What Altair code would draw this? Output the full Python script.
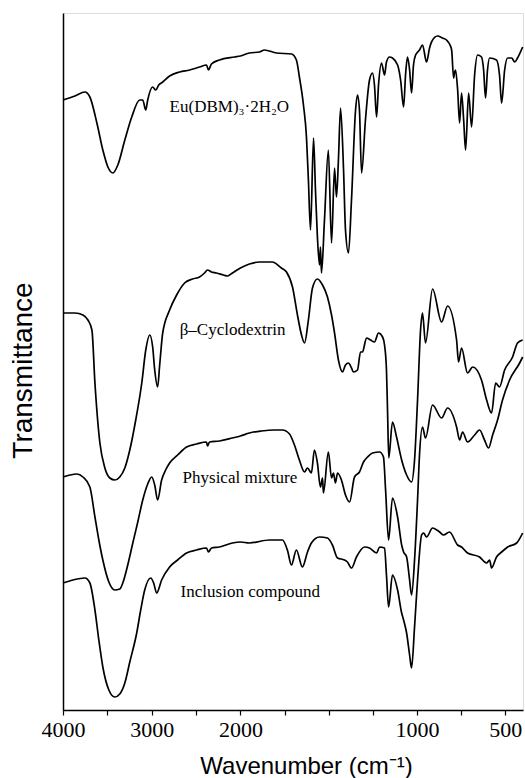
import altair as alt
import pandas as pd

# ---- Eu(DBM)3.2H2O ----
wn_eu = [4000, 3865, 3753, 3697, 3618, 3551, 3494, 3438, 3382, 3303, 3225, 3135, 3101, 3067, 3045,
         2989, 2955, 2921, 2876, 2798, 2685, 2573, 2461, 2382, 2360, 2326, 2236, 2067, 2000, 1949,
         1892, 1864, 1796, 1711, 1683, 1666, 1643, 1626, 1615, 1603, 1586, 1575, 1564, 1552, 1547,
         1541, 1524, 1502, 1484, 1467, 1456, 1445, 1433, 1416, 1405, 1388, 1371, 1348, 1337, 1326,
         1314, 1292, 1269, 1252, 1241, 1229, 1218, 1201, 1184, 1173, 1156, 1139, 1110, 1093, 1076,
         1065, 1054, 1042, 1031, 1020, 1008, 986, 969, 946, 929, 918, 884, 856, 833, 816,
         804, 793, 787, 782, 770, 759, 748, 736, 725, 708, 691, 674, 657, 635, 623,
         612, 601, 589, 550, 533, 521, 504, 487, 464, 447, 431, 402]
t_eu = [610, 614, 618, 613, 587, 560, 543, 537, 545, 570, 593, 610, 610, 600, 610,
        623, 620, 625, 628, 634, 638, 640, 643, 645, 640, 646, 650, 653, 654, 657,
        658, 660, 657, 656, 650, 633, 605, 573, 530, 480, 572, 520, 473, 445, 463,
        437, 490, 560, 467, 542, 513, 550, 602, 540, 480, 457, 510, 600, 615, 600,
        537, 590, 630, 637, 625, 593, 625, 647, 635, 648, 653, 652, 645, 630, 603,
        635, 653, 640, 617, 645, 655, 660, 665, 648, 662, 668, 674, 672, 670, 666,
        660, 632, 638, 640, 620, 587, 617, 590, 560, 617, 583, 635, 655, 653, 640,
        612, 640, 652, 650, 635, 607, 640, 652, 652, 648, 652, 663]

# ---- beta-Cyclodextrin ----
wn_cd = [4000, 3865, 3775, 3719, 3674, 3640, 3584, 3528, 3472, 3416, 3360, 3303, 3247, 3180, 3112,
         3067, 3022, 2989, 2966, 2933, 2910, 2876, 2798, 2719, 2629, 2539, 2461, 2404, 2371, 2326,
         2270, 2191, 2146, 2090, 2000, 1949, 1892, 1819, 1768, 1739, 1705, 1677, 1654, 1637, 1615,
         1592, 1564, 1535, 1507, 1484, 1467, 1445, 1422, 1405, 1388, 1371, 1360, 1337, 1320, 1309,
         1286, 1263, 1241, 1218, 1195, 1184, 1173, 1167, 1160, 1139, 1116, 1087, 1059, 1031, 1014,
         997, 980, 969, 952, 912, 861, 827, 776, 765, 748, 714, 685, 635, 606, 578,
         555, 533, 504, 459, 431, 402]
t_cd = [397, 397, 395, 390, 380, 327, 267, 242, 232, 230, 233, 242, 260, 290, 327,
        360, 375, 363, 340, 323, 345, 377, 400, 415, 427, 431, 433, 437, 440, 438,
        437, 435, 434, 437, 442, 446, 448, 448, 442, 438, 423, 395, 375, 367, 390,
        422, 431, 425, 413, 395, 377, 350, 338, 345, 347, 342, 338, 340, 358, 358,
        372, 370, 368, 377, 373, 365, 340, 300, 252, 288, 273, 250, 235, 228, 250,
        310, 380, 397, 367, 421, 388, 404, 370, 348, 362, 337, 343, 330, 310, 297,
        327, 323, 340, 353, 367, 370]

# ---- Physical mixture ----
wn_pm = [4000, 3921, 3843, 3775, 3697, 3640, 3596, 3551, 3483, 3416, 3360, 3326, 3270, 3213, 3157,
         3101, 3045, 3000, 2966, 2933, 2888, 2843, 2798, 2708, 2607, 2494, 2382, 2371, 2348, 2236,
         2090, 2000, 1949, 1881, 1807, 1762, 1722, 1694, 1666, 1637, 1620, 1598, 1581, 1564, 1547,
         1535, 1530, 1502, 1484, 1473, 1462, 1450, 1428, 1405, 1382, 1354, 1326, 1303, 1280, 1252,
         1212, 1190, 1178, 1161, 1139, 1110, 1087, 1076, 1059, 1042, 1031, 1014, 997, 986, 969,
         952, 912, 861, 827, 776, 759, 742, 714, 674, 646, 618, 595, 572, 544, 516,
         476, 419, 402]
t_pm = [233, 235, 236, 233, 223, 193, 170, 150, 128, 120, 121, 127, 145, 167, 188,
        210, 226, 233, 225, 210, 230, 240, 247, 255, 263, 266, 268, 264, 268, 269,
        272, 274, 277, 279, 280, 280, 276, 265, 250, 238, 242, 237, 260, 247, 223,
        232, 217, 258, 232, 237, 227, 237, 230, 215, 208, 233, 238, 248, 253, 257,
        258, 253, 220, 170, 212, 193, 165, 158, 153, 130, 115, 150, 210, 255, 283,
        272, 305, 292, 302, 283, 270, 278, 268, 275, 280, 270, 262, 275, 290, 310,
        330, 347, 353]

# ---- Inclusion compound ----
wn_ic = [4000, 3888, 3753, 3697, 3640, 3596, 3551, 3483, 3416, 3360, 3303, 3247, 3169, 3124, 3079,
         3011, 2978, 2944, 2888, 2798, 2708, 2607, 2494, 2382, 2360, 2326, 2236, 2090, 2000, 1949,
         1836, 1762, 1734, 1711, 1683, 1649, 1620, 1598, 1552, 1507, 1479, 1450, 1411, 1394, 1371,
         1343, 1297, 1269, 1229, 1212, 1184, 1173, 1161, 1139, 1110, 1087, 1076, 1059, 1042, 1031,
         1014, 997, 974, 963, 946, 912, 872, 850, 816, 770, 748, 714, 646, 606, 589,
         578, 550, 521, 487, 436, 402]
t_ic = [127, 130, 132, 127, 100, 70, 43, 20, 13, 16, 27, 48, 77, 100, 120,
        132, 127, 117, 130, 143, 150, 157, 160, 162, 158, 162, 163, 167, 168, 167,
        170, 170, 160, 145, 160, 143, 158, 167, 173, 172, 165, 152, 150, 148, 142,
        153, 163, 162, 157, 163, 162, 135, 103, 135, 120, 97, 90, 77, 55, 42,
        83, 130, 175, 177, 173, 182, 178, 175, 178, 165, 163, 157, 153, 147, 150,
        142, 153, 158, 163, 167, 177]

series = [
    ("Eu(DBM)3·2H2O", wn_eu, t_eu),
    ("β–Cyclodextrin", wn_cd, t_cd),
    ("Physical mixture", wn_pm, t_pm),
    ("Inclusion compound", wn_ic, t_ic),
]

rows = []
for name, wns, ts in series:
    for w, t in zip(wns, ts):
        rows.append({"series": name, "wn": w, "T": t})
df = pd.DataFrame(rows)

# curve labels
lab_text = ["Eu(DBM)₃·2H₂O", "β–Cyclodextrin", "Physical mixture", "Inclusion compound"]
lab_wn = [2798, 2685, 2652, 2674]
lab_t = [598, 375, 227, 113]
lab_size = [17, 17, 17, 17]
df_lab = pd.DataFrame({"text": lab_text, "wn": lab_wn, "T": lab_t, "size": lab_size})

tick_vals = [4000, 3500, 3000, 2500, 2000, 1750, 1500, 1250, 1000, 750, 500]

x_scale = alt.Scale(domain=[4000, 2000, 400], range=[0, 177.4, 460], nice=False, zero=False)
y_scale = alt.Scale(domain=[0, 697], nice=False, zero=False)

x_axis = alt.Axis(
    values=tick_vals,
    labelExpr="(datum.value == 4000 || datum.value == 3000 || datum.value == 2000 || datum.value == 1000 || datum.value == 500) ? '' + datum.value : ''",
    labelFont="Liberation Serif", labelFontSize=22, labelColor="black",
    labelPadding=4, labelOverlap=False, labelFlush=False,
    tickColor="black", tickSize=5, tickWidth=1.2,
    domainColor="black", domainWidth=1.5, grid=False,
    title="Wavenumber (cm⁻¹)", titleFont="Liberation Sans", titleFontSize=24,
    titleFontWeight="normal", titleColor="black",
    titleX=243, titleY=63, titleBaseline="alphabetic", titleAlign="center",
)
y_axis = alt.Axis(
    ticks=False, labels=False, grid=False,
    domainColor="black", domainWidth=1.5,
    title="Transmittance", titleFont="Liberation Sans", titleFontSize=28,
    titleFontWeight="normal", titleColor="black", titleAngle=270,
    titleX=-40, titleY=357, titleAlign="center", titleBaseline="middle",
)

x_enc = alt.X("wn:Q", scale=x_scale, axis=x_axis)
y_enc = alt.Y("T:Q", scale=y_scale, axis=y_axis)

lines = alt.Chart(df).mark_line(color="black", strokeWidth=1.7, interpolate="monotone").encode(
    x=x_enc,
    y=y_enc,
    detail="series:N",
    order=alt.Order("wn:Q", sort="descending"),
)

labels = alt.Chart(df_lab).mark_text(
    align="left", baseline="alphabetic", font="Liberation Serif", color="black"
).encode(
    x=x_enc,
    y=y_enc,
    text="text:N",
    size=alt.Size("size:Q", scale=None),
)

chart = alt.layer(lines, labels).properties(
    width=460, height=697,
    autosize="none",
    padding={"left": 63, "top": 13, "right": 2, "bottom": 68},
).configure_view(stroke=None).configure(background="white")

chart.save("out.html", embed_options={"renderer": "svg", "actions": False})
